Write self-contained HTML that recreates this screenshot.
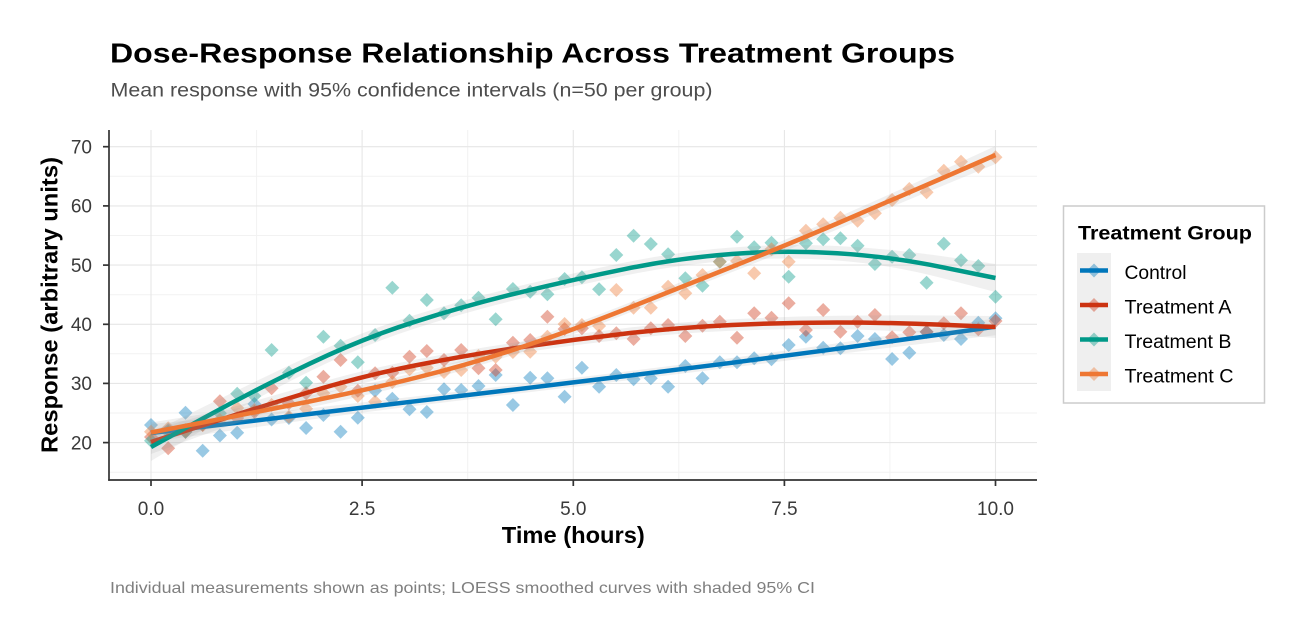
<!DOCTYPE html>
<html><head><meta charset="utf-8"><style>
html,body{margin:0;padding:0;background:#fff;}
svg{display:block;font-family:"Liberation Sans",Arial,sans-serif;}
</style></head><body>
<svg width="1305" height="636" viewBox="0 0 1305 636" xmlns="http://www.w3.org/2000/svg">
<defs>
<path id="d" d="M0,-7L7,0L0,7L-7,0Z"/>
<clipPath id="pc"><rect x="109" y="130" width="928" height="350"/></clipPath>
</defs>
<rect width="1305" height="636" fill="#fff"/>

<!-- titles -->
<text x="110" y="62.3" font-size="28" font-weight="bold" fill="#000" textLength="845" lengthAdjust="spacingAndGlyphs">Dose-Response Relationship Across Treatment Groups</text>
<text x="110.5" y="96.7" font-size="19.5" fill="#4d4d4d" textLength="602" lengthAdjust="spacingAndGlyphs">Mean response with 95% confidence intervals (n=50 per group)</text>

<!-- grid minor -->
<g stroke="#f2f2f2" stroke-width="1">
<line x1="109" x2="1037" y1="472.2" y2="472.2"/><line x1="109" x2="1037" y1="413" y2="413"/><line x1="109" x2="1037" y1="353.8" y2="353.8"/><line x1="109" x2="1037" y1="294.7" y2="294.7"/><line x1="109" x2="1037" y1="235.5" y2="235.5"/><line x1="109" x2="1037" y1="176.3" y2="176.3"/>
<line y1="130" y2="480" x1="256.6" x2="256.6"/><line y1="130" y2="480" x1="467.7" x2="467.7"/><line y1="130" y2="480" x1="678.8" x2="678.8"/><line y1="130" y2="480" x1="889.9" x2="889.9"/>
</g>
<!-- grid major -->
<g stroke="#e6e6e6" stroke-width="1.1">
<line x1="109" x2="1037" y1="146.7" y2="146.7"/><line x1="109" x2="1037" y1="205.9" y2="205.9"/><line x1="109" x2="1037" y1="265.1" y2="265.1"/><line x1="109" x2="1037" y1="324.3" y2="324.3"/><line x1="109" x2="1037" y1="383.4" y2="383.4"/><line x1="109" x2="1037" y1="442.6" y2="442.6"/>
<line y1="130" y2="480" x1="151" x2="151"/><line y1="130" y2="480" x1="362.1" x2="362.1"/><line y1="130" y2="480" x1="573.3" x2="573.3"/><line y1="130" y2="480" x1="784.4" x2="784.4"/><line y1="130" y2="480" x1="995.5" x2="995.5"/>
</g>

<g clip-path="url(#pc)">
<!-- points -->
<g fill="#0077BB" fill-opacity="0.4">
<use href="#d" x="151" y="425"/><use href="#d" x="168.2" y="430"/><use href="#d" x="185.5" y="412.7"/><use href="#d" x="202.7" y="450.7"/><use href="#d" x="219.9" y="435.5"/><use href="#d" x="237.2" y="432.7"/><use href="#d" x="254.4" y="404"/><use href="#d" x="271.6" y="419.5"/><use href="#d" x="288.9" y="418"/><use href="#d" x="306.1" y="428"/><use href="#d" x="323.4" y="415"/><use href="#d" x="340.6" y="431.7"/><use href="#d" x="357.8" y="417.7"/><use href="#d" x="375.1" y="390.7"/><use href="#d" x="392.3" y="398.7"/><use href="#d" x="409.5" y="409.3"/><use href="#d" x="426.8" y="412"/><use href="#d" x="444" y="389.3"/><use href="#d" x="461.2" y="390"/><use href="#d" x="478.5" y="386"/><use href="#d" x="495.7" y="375"/><use href="#d" x="512.9" y="405"/><use href="#d" x="530.2" y="377.7"/><use href="#d" x="547.4" y="378.3"/><use href="#d" x="564.6" y="396.7"/><use href="#d" x="581.9" y="367.7"/><use href="#d" x="599.1" y="386.7"/><use href="#d" x="616.3" y="375"/><use href="#d" x="633.6" y="379.3"/><use href="#d" x="650.8" y="378.3"/><use href="#d" x="668.1" y="386.7"/><use href="#d" x="685.3" y="366"/><use href="#d" x="702.5" y="378.3"/><use href="#d" x="719.8" y="362.3"/><use href="#d" x="737" y="362.3"/><use href="#d" x="754.2" y="358.3"/><use href="#d" x="771.5" y="359.3"/><use href="#d" x="788.7" y="345"/><use href="#d" x="805.9" y="336.7"/><use href="#d" x="823.2" y="347.7"/><use href="#d" x="840.4" y="348.3"/><use href="#d" x="857.6" y="336"/><use href="#d" x="874.9" y="339"/><use href="#d" x="892.1" y="359"/><use href="#d" x="909.3" y="352.7"/><use href="#d" x="926.6" y="332"/><use href="#d" x="943.8" y="335"/><use href="#d" x="961" y="339"/><use href="#d" x="978.3" y="322.7"/><use href="#d" x="995.5" y="318.3"/>
</g>
<g fill="#CC3311" fill-opacity="0.4">
<use href="#d" x="151" y="437"/><use href="#d" x="168.2" y="448.3"/><use href="#d" x="185.5" y="432"/><use href="#d" x="202.7" y="425"/><use href="#d" x="219.9" y="401.3"/><use href="#d" x="237.2" y="418"/><use href="#d" x="254.4" y="412"/><use href="#d" x="271.6" y="388.3"/><use href="#d" x="288.9" y="403.3"/><use href="#d" x="306.1" y="393.3"/><use href="#d" x="323.4" y="376.7"/><use href="#d" x="340.6" y="360"/><use href="#d" x="357.8" y="390.7"/><use href="#d" x="375.1" y="373.3"/><use href="#d" x="392.3" y="372.7"/><use href="#d" x="409.5" y="356.7"/><use href="#d" x="426.8" y="351"/><use href="#d" x="444" y="360"/><use href="#d" x="461.2" y="350"/><use href="#d" x="478.5" y="368.3"/><use href="#d" x="495.7" y="370"/><use href="#d" x="512.9" y="342.7"/><use href="#d" x="530.2" y="340"/><use href="#d" x="547.4" y="316.7"/><use href="#d" x="564.6" y="329"/><use href="#d" x="581.9" y="328.3"/><use href="#d" x="599.1" y="336"/><use href="#d" x="616.3" y="333.3"/><use href="#d" x="633.6" y="339"/><use href="#d" x="650.8" y="328.3"/><use href="#d" x="668.1" y="325"/><use href="#d" x="685.3" y="336"/><use href="#d" x="702.5" y="325.7"/><use href="#d" x="719.8" y="321.7"/><use href="#d" x="737" y="337.7"/><use href="#d" x="754.2" y="313.3"/><use href="#d" x="771.5" y="317.7"/><use href="#d" x="788.7" y="303.3"/><use href="#d" x="805.9" y="330"/><use href="#d" x="823.2" y="310"/><use href="#d" x="840.4" y="331.7"/><use href="#d" x="857.6" y="321.7"/><use href="#d" x="874.9" y="315"/><use href="#d" x="892.1" y="337.3"/><use href="#d" x="909.3" y="332.3"/><use href="#d" x="926.6" y="331.7"/><use href="#d" x="943.8" y="323.3"/><use href="#d" x="961" y="313.3"/><use href="#d" x="978.3" y="329.3"/><use href="#d" x="995.5" y="321"/>
</g>
<g fill="#009988" fill-opacity="0.4">
<use href="#d" x="151" y="440.7"/><use href="#d" x="168.2" y="432"/><use href="#d" x="185.5" y="431.7"/><use href="#d" x="202.7" y="424"/><use href="#d" x="219.9" y="413.3"/><use href="#d" x="237.2" y="393.7"/><use href="#d" x="254.4" y="396"/><use href="#d" x="271.6" y="350"/><use href="#d" x="288.9" y="372.7"/><use href="#d" x="306.1" y="382.7"/><use href="#d" x="323.4" y="336.7"/><use href="#d" x="340.6" y="345.7"/><use href="#d" x="357.8" y="362.3"/><use href="#d" x="375.1" y="335"/><use href="#d" x="392.3" y="287.7"/><use href="#d" x="409.5" y="320.7"/><use href="#d" x="426.8" y="300"/><use href="#d" x="444" y="313.3"/><use href="#d" x="461.2" y="305.3"/><use href="#d" x="478.5" y="297.7"/><use href="#d" x="495.7" y="319.3"/><use href="#d" x="512.9" y="289"/><use href="#d" x="530.2" y="291.7"/><use href="#d" x="547.4" y="294.3"/><use href="#d" x="564.6" y="279"/><use href="#d" x="581.9" y="277.3"/><use href="#d" x="599.1" y="289.3"/><use href="#d" x="616.3" y="255"/><use href="#d" x="633.6" y="235.7"/><use href="#d" x="650.8" y="244"/><use href="#d" x="668.1" y="254.3"/><use href="#d" x="685.3" y="278.3"/><use href="#d" x="702.5" y="285.7"/><use href="#d" x="719.8" y="261.7"/><use href="#d" x="737" y="236.7"/><use href="#d" x="754.2" y="247.3"/><use href="#d" x="771.5" y="242.7"/><use href="#d" x="788.7" y="276.7"/><use href="#d" x="805.9" y="243.3"/><use href="#d" x="823.2" y="239.3"/><use href="#d" x="840.4" y="238.3"/><use href="#d" x="857.6" y="245.7"/><use href="#d" x="874.9" y="264"/><use href="#d" x="892.1" y="256.7"/><use href="#d" x="909.3" y="255"/><use href="#d" x="926.6" y="282.7"/><use href="#d" x="943.8" y="243.7"/><use href="#d" x="961" y="260.3"/><use href="#d" x="978.3" y="266"/><use href="#d" x="995.5" y="296.7"/>
</g>
<g fill="#EE7733" fill-opacity="0.4">
<use href="#d" x="151" y="431.7"/><use href="#d" x="168.2" y="428.3"/><use href="#d" x="185.5" y="430"/><use href="#d" x="202.7" y="425"/><use href="#d" x="219.9" y="420"/><use href="#d" x="237.2" y="408"/><use href="#d" x="254.4" y="410"/><use href="#d" x="271.6" y="405"/><use href="#d" x="288.9" y="416.7"/><use href="#d" x="306.1" y="408.7"/><use href="#d" x="323.4" y="393.3"/><use href="#d" x="340.6" y="386.7"/><use href="#d" x="357.8" y="396"/><use href="#d" x="375.1" y="401.7"/><use href="#d" x="392.3" y="382"/><use href="#d" x="409.5" y="369.3"/><use href="#d" x="426.8" y="367.7"/><use href="#d" x="444" y="372"/><use href="#d" x="461.2" y="370"/><use href="#d" x="478.5" y="356"/><use href="#d" x="495.7" y="356.7"/><use href="#d" x="512.9" y="352"/><use href="#d" x="530.2" y="351.7"/><use href="#d" x="547.4" y="336.7"/><use href="#d" x="564.6" y="324"/><use href="#d" x="581.9" y="325"/><use href="#d" x="599.1" y="326"/><use href="#d" x="616.3" y="290"/><use href="#d" x="633.6" y="307.7"/><use href="#d" x="650.8" y="307.7"/><use href="#d" x="668.1" y="286.7"/><use href="#d" x="685.3" y="293.3"/><use href="#d" x="702.5" y="275"/><use href="#d" x="719.8" y="261.7"/><use href="#d" x="737" y="261"/><use href="#d" x="754.2" y="273.3"/><use href="#d" x="771.5" y="249.3"/><use href="#d" x="788.7" y="261.7"/><use href="#d" x="805.9" y="230.7"/><use href="#d" x="823.2" y="224.3"/><use href="#d" x="840.4" y="217.7"/><use href="#d" x="857.6" y="220.7"/><use href="#d" x="874.9" y="213.3"/><use href="#d" x="892.1" y="200"/><use href="#d" x="909.3" y="189"/><use href="#d" x="926.6" y="192.3"/><use href="#d" x="943.8" y="170.7"/><use href="#d" x="961" y="161.7"/><use href="#d" x="978.3" y="166.7"/><use href="#d" x="995.5" y="157.3"/>
</g>

<!-- smooths -->
<path fill="#999999" fill-opacity="0.15" d="M151,424 L203.8,419 Q256.6,414 309.4,408.3 Q362.1,402.5 414.9,396.5 Q467.7,390.5 520.5,384.3 Q573.3,378 626.1,371.5 Q678.8,365 731.6,358 Q784.4,351 837.2,343.3 Q889.9,335.5 942.7,326.9 L995.5,318.2 L995.5,335.2 L942.7,341.4 Q889.9,347.5 837.2,354.3 Q784.4,361 731.6,367.5 Q678.8,374 626.1,380.5 Q573.3,387 520.5,393.3 Q467.7,399.5 414.9,406 Q362.1,412.5 309.4,419.8 Q256.6,427 203.8,434.5 L151,442 Z"/>
<path fill="none" stroke="#0077BB" stroke-width="4.5" stroke-linejoin="round" d="M151,433 L203.8,426.8 Q256.6,420.5 309.4,414 Q362.1,407.5 414.9,401.3 Q467.7,395 520.5,388.8 Q573.3,382.5 626.1,376 Q678.8,369.5 731.6,362.8 Q784.4,356 837.2,348.8 Q889.9,341.5 942.7,334.1 L995.5,326.7"/>
<path fill="#999999" fill-opacity="0.15" d="M151,430 L203.8,415.3 Q256.6,400.5 309.4,385.3 Q362.1,370 414.9,359.8 Q467.7,349.5 520.5,341.8 Q573.3,334 626.1,328 Q678.8,322 731.6,319.3 Q784.4,316.5 837.2,315.8 Q889.9,315 942.7,315.5 L995.5,316 L995.5,338 L942.7,334 Q889.9,330 837.2,329.3 Q784.4,328.5 731.6,330.8 Q678.8,333 626.1,339 Q573.3,345 520.5,352.8 Q467.7,360.5 414.9,371.3 Q362.1,382 309.4,398.8 Q256.6,415.5 203.8,434.8 L151,454 Z"/>
<path fill="none" stroke="#CC3311" stroke-width="4.5" stroke-linejoin="round" d="M151,442 L203.8,425 Q256.6,408 309.4,392 Q362.1,376 414.9,365.5 Q467.7,355 520.5,347.3 Q573.3,339.5 626.1,333.5 Q678.8,327.5 731.6,325 Q784.4,322.5 837.2,322.5 Q889.9,322.5 942.7,324.8 L995.5,327"/>
<path fill="#999999" fill-opacity="0.15" d="M151,433 L203.8,406.8 Q256.6,380.5 309.4,356 Q362.1,331.5 414.9,315 Q467.7,298.5 520.5,285.8 Q573.3,273 626.1,262.3 Q678.8,251.5 731.6,247.5 Q784.4,243.5 837.2,246 Q889.9,248.5 942.7,256.3 L995.5,264 L995.5,292 L942.7,278.3 Q889.9,264.5 837.2,260.5 Q784.4,256.5 731.6,260.5 Q678.8,264.5 626.1,275.3 Q573.3,286 520.5,298.8 Q467.7,311.5 414.9,328.5 Q362.1,345.5 309.4,371.5 Q256.6,397.5 203.8,429.3 L151,461 Z"/>
<path fill="none" stroke="#009988" stroke-width="4.5" stroke-linejoin="round" d="M151,447 L203.8,418 Q256.6,389 309.4,363.8 Q362.1,338.5 414.9,321.8 Q467.7,305 520.5,292.3 Q573.3,279.5 626.1,268.8 Q678.8,258 731.6,254 Q784.4,250 837.2,253.3 Q889.9,256.5 942.7,267.3 L995.5,278"/>
<path fill="#999999" fill-opacity="0.15" d="M151,422.5 L203.8,414 Q256.6,405.5 309.4,395.5 Q362.1,385.5 414.9,372.8 Q467.7,360 520.5,342.5 Q573.3,325 626.1,304 Q678.8,283 731.6,261.8 Q784.4,240.5 837.2,217.5 Q889.9,194.5 942.7,170.3 L995.5,146 L995.5,164 L942.7,185.8 Q889.9,207.5 837.2,229.5 Q784.4,251.5 731.6,272.3 Q678.8,293 626.1,314 Q573.3,335 520.5,352.5 Q467.7,370 414.9,383.3 Q362.1,396.5 309.4,407.5 Q256.6,418.5 203.8,430.5 L151,442.5 Z"/>
<path fill="none" stroke="#EE7733" stroke-width="4.5" stroke-linejoin="round" d="M151,432.5 L203.8,422.3 Q256.6,412 309.4,401.5 Q362.1,391 414.9,378 Q467.7,365 520.5,347.5 Q573.3,330 626.1,309 Q678.8,288 731.6,267 Q784.4,246 837.2,223.5 Q889.9,201 942.7,178 L995.5,155"/>
</g>

<!-- axes -->
<g stroke="#333" stroke-width="1.7" fill="none">
<line x1="109" y1="130" x2="109" y2="480.8"/>
<line x1="108.2" y1="480" x2="1037" y2="480"/>
<line x1="103" x2="109" y1="146.7" y2="146.7"/><line x1="103" x2="109" y1="205.9" y2="205.9"/><line x1="103" x2="109" y1="265.1" y2="265.1"/><line x1="103" x2="109" y1="324.3" y2="324.3"/><line x1="103" x2="109" y1="383.4" y2="383.4"/><line x1="103" x2="109" y1="442.6" y2="442.6"/>
<line y1="480" y2="486" x1="151" x2="151"/><line y1="480" y2="486" x1="362.1" x2="362.1"/><line y1="480" y2="486" x1="573.3" x2="573.3"/><line y1="480" y2="486" x1="784.4" x2="784.4"/><line y1="480" y2="486" x1="995.5" x2="995.5"/>
</g>

<!-- tick labels -->
<g font-size="19" fill="#3a3a3a" text-anchor="end">
<text x="92" y="153.5">70</text><text x="92" y="212.7">60</text><text x="92" y="271.9">50</text><text x="92" y="331.1">40</text><text x="92" y="390.2">30</text><text x="92" y="449.4">20</text>
</g>
<g font-size="19" fill="#3a3a3a" text-anchor="middle">
<text x="151" y="515">0.0</text><text x="362.1" y="515">2.5</text><text x="573.3" y="515">5.0</text><text x="784.4" y="515">7.5</text><text x="995.5" y="515">10.0</text>
</g>

<!-- axis titles -->
<text x="573.3" y="543" font-size="23" font-weight="bold" text-anchor="middle" fill="#000" textLength="143" lengthAdjust="spacingAndGlyphs">Time (hours)</text>
<text transform="translate(57.5,305) rotate(-90)" font-size="23" font-weight="bold" text-anchor="middle" fill="#000" textLength="296" lengthAdjust="spacingAndGlyphs">Response (arbitrary units)</text>

<!-- caption -->
<text x="110" y="593" font-size="16" fill="#7f7f7f" textLength="705" lengthAdjust="spacingAndGlyphs">Individual measurements shown as points; LOESS smoothed curves with shaded 95% CI</text>

<!-- legend -->
<rect x="1063.5" y="206" width="201" height="197" fill="#fff" stroke="#cccccc" stroke-width="1.5"/>
<text x="1078" y="239.3" font-size="19" font-weight="bold" fill="#000" textLength="174" lengthAdjust="spacingAndGlyphs">Treatment Group</text>
<rect x="1077" y="253" width="34" height="138" fill="#efefef"/>
<g fill-opacity="0.4">
<use href="#d" x="1094" y="270.5" fill="#0077BB"/>
<use href="#d" x="1094" y="305" fill="#CC3311"/>
<use href="#d" x="1094" y="339.5" fill="#009988"/>
<use href="#d" x="1094" y="374" fill="#EE7733"/>
</g>
<g stroke-width="4.5">
<line x1="1080" x2="1108" y1="270.5" y2="270.5" stroke="#0077BB"/>
<line x1="1080" x2="1108" y1="305" y2="305" stroke="#CC3311"/>
<line x1="1080" x2="1108" y1="339.5" y2="339.5" stroke="#009988"/>
<line x1="1080" x2="1108" y1="374" y2="374" stroke="#EE7733"/>
</g>
<g font-size="19" fill="#000">
<text x="1124.5" y="279" textLength="62" lengthAdjust="spacingAndGlyphs">Control</text>
<text x="1124.5" y="313.5" textLength="107" lengthAdjust="spacingAndGlyphs">Treatment A</text>
<text x="1124.5" y="348" textLength="107" lengthAdjust="spacingAndGlyphs">Treatment B</text>
<text x="1124.5" y="382.5" textLength="109" lengthAdjust="spacingAndGlyphs">Treatment C</text>
</g>
</svg>
</body></html>
